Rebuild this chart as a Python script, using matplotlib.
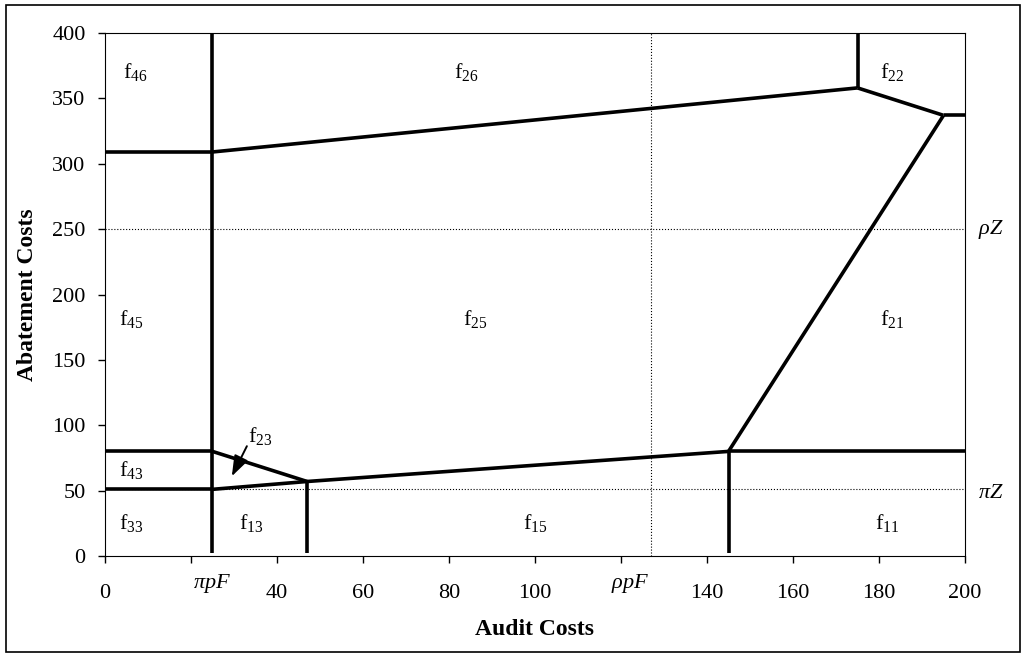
import matplotlib
matplotlib.use("Agg")
import matplotlib.pyplot as plt
from matplotlib.patches import Rectangle

plt.rcParams["font.family"] = ["Liberation Serif", "DejaVu Serif"]
plt.rcParams["mathtext.fontset"] = "custom"
plt.rcParams["mathtext.rm"] = "Liberation Serif"
plt.rcParams["mathtext.it"] = "Liberation Serif:italic"

# boundary segments (x0, y0, x1, y1)
segments = [
    (25, 2, 25, 400),
    (0, 309, 25, 309),
    (25, 309, 175, 358),
    (175, 358, 175, 400),
    (175, 358, 195, 337),
    (195, 337, 200, 337),
    (195, 337, 145, 80),
    (145, 80, 200, 80),
    (145, 2, 145, 80),
    (47, 57, 145, 80),
    (47, 2, 47, 57),
    (25, 80, 47, 57),
    (0, 80, 25, 80),
    (0, 51, 25, 51),
    (25, 51, 47, 57),
]

region_names = ["46", "26", "22", "45", "25", "21", "43", "33", "13", "15", "11"]
region_x = [7, 84, 183, 6, 86, 183, 6, 6, 34, 100, 182]
region_y = [370, 370, 370, 181, 181, 181, 66, 25, 25, 25, 25]

x_ticks = [0, 20, 40, 60, 80, 100, 120, 140, 160, 180, 200]
x_labels = ["0", "", "40", "60", "80", "100", "", "140", "160", "180", "200"]
y_ticks = list(range(0, 401, 50))

pi_pF, rho_pF = 25, 127
pi_Z, rho_Z = 51, 250

fig = plt.figure(figsize=(10.25, 6.57), dpi=100)
ax = fig.add_axes([0.1024, 0.1537, 0.8391, 0.7961])

ax.axvline(rho_pF, color="k", ls=":", lw=0.8)
ax.axhline(rho_Z, color="k", ls=":", lw=0.8)
ax.axhline(pi_Z, color="k", ls=":", lw=0.8)

for x0, y0, x1, y1 in segments:
    ax.plot([x0, x1], [y0, y1], color="k", lw=2.6, solid_capstyle="butt")

for name, x, y in zip(region_names, region_x, region_y):
    ax.text(x, y, "f$_{%s}$" % name, fontsize=16, ha="center", va="center")

ax.text(36, 92, "f$_{23}$", fontsize=16, ha="center", va="center")
ax.annotate("", xy=(29.5, 61), xytext=(33, 84),
            arrowprops=dict(arrowstyle="-|>,head_length=0.7,head_width=0.25",
                            color="k", lw=1.4, mutation_scale=18,
                            shrinkA=0, shrinkB=0))

ax.set_xlim(0, 200)
ax.set_ylim(0, 400)
ax.set_xticks(x_ticks)
ax.set_xticklabels(x_labels)
ax.set_yticks(y_ticks)
ax.tick_params(labelsize=16, direction="out", length=5, width=1)
ax.tick_params(axis="x", pad=15)
ax.tick_params(axis="y", pad=9)

ax.text(pi_pF, -21, r"$\pi pF$", fontsize=16, ha="center", va="center")
ax.text(122, -21, r"$\rho pF$", fontsize=16, ha="center", va="center")
ax.text(203, rho_Z, r"$\rho Z$", fontsize=16, ha="left", va="center")
ax.text(203, pi_Z - 3, r"$\pi Z$", fontsize=16, ha="left", va="center")

ax.set_xlabel("Audit Costs", fontsize=17, fontweight="bold", labelpad=12)
ax.set_ylabel("Abatement Costs", fontsize=17, fontweight="bold", labelpad=10)

fig.patches.append(Rectangle((0.006, 0.008), 0.989, 0.984, transform=fig.transFigure,
                             fill=False, edgecolor="k", lw=1.2))

fig.savefig("out.png", dpi=100)
